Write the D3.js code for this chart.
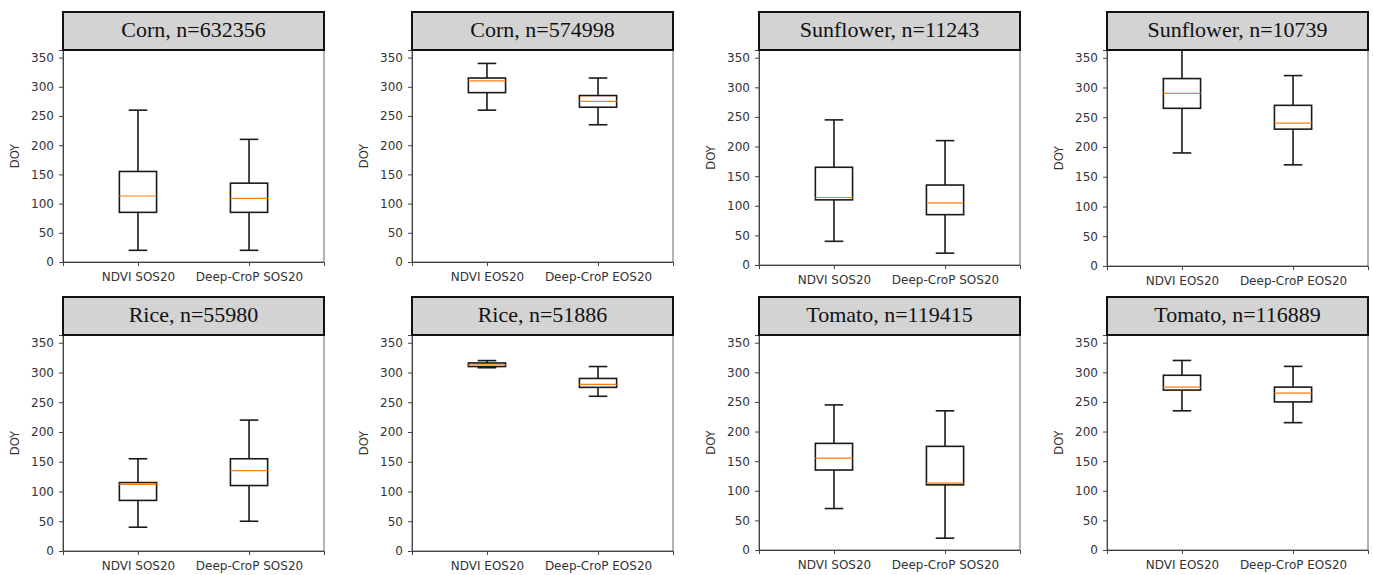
<!DOCTYPE html>
<html>
<head>
<meta charset="utf-8">
<script src="https://cdn.jsdelivr.net/npm/d3@7"></script>
<style>
  html, body { margin: 0; padding: 0; background: #fff; }
  svg { display: block; }
</style>
</head>
<body>
<svg id="chart" width="1373" height="575"></svg>
<script>
// Crop / sample size per panel (row-major, 2 rows x 4 columns)
const crops = ["Corn", "Corn", "Sunflower", "Sunflower", "Rice", "Rice", "Tomato", "Tomato"];
const sampleSizes = [632356, 574998, 11243, 10739, 55980, 51886, 119415, 116889];
const phases = ["SOS20", "EOS20", "SOS20", "EOS20", "SOS20", "EOS20", "SOS20", "EOS20"];
const methods = ["NDVI", "Deep-CroP"];

// Box statistics: [lower whisker, Q1, median, Q3, upper whisker] in DOY
const ndviStats = [
  [20, 85, 113, 155, 260],
  [260, 290, 310, 315, 340],
  [40, 110, 114, 165, 245],
  [190, 265, 290, 315, 365],
  [40, 85, 112, 115, 155],
  [308, 310, 313, 316, 320],
  [70, 135, 155, 180, 245],
  [235, 270, 275, 295, 320]
];
const deepStats = [
  [20, 85, 109, 135, 210],
  [235, 265, 275, 285, 315],
  [20, 85, 105, 135, 210],
  [170, 230, 240, 270, 320],
  [50, 110, 135, 155, 220],
  [260, 275, 280, 290, 310],
  [20, 110, 113, 175, 235],
  [215, 250, 265, 275, 310]
];

const yTicks = [0, 50, 100, 150, 200, 250, 300, 350];
const yLabel = "DOY";

// Layout of the 2 x 4 grid
const colLeft = [63, 412, 759, 1107];
const plotW = 261;
const titleTop = [12, 297];
const titleH = 38;
const plotBottom = [[262, 262, 265, 266], [551, 551, 550, 550]];

const svg = d3.select("#chart");

crops.forEach((crop, i) => {
  const row = Math.floor(i / 4), col = i % 4;
  const left = colLeft[col];
  const top = titleTop[row] + titleH;
  const bottom = plotBottom[row][col];

  const x = d3.scaleLinear().domain([0.325, 2.675]).range([left, left + plotW]);
  const y = d3.scaleLinear().domain([0, 363]).range([bottom, top]);

  const g = svg.append("g");

  // Axes frame (spines)
  g.append("rect")
    .attr("x", left).attr("y", top)
    .attr("width", plotW).attr("height", bottom - top)
    .attr("fill", "#fff").attr("stroke", "#666").attr("stroke-width", 1);

  // Y axis
  const yAxis = d3.axisLeft(y).tickValues(yTicks).tickSize(4).tickPadding(5);
  const ya = g.append("g").attr("transform", `translate(${left},0)`).call(yAxis);
  ya.select(".domain").attr("stroke", "#444");
  ya.selectAll(".tick line").attr("stroke", "#444");
  ya.selectAll("text")
    .attr("font-family", "DejaVu Sans, sans-serif")
    .attr("font-size", 12).attr("fill", "#333");

  // X axis with method labels
  const labels = methods.map(m => `${m} ${phases[i]}`);
  const xAxis = d3.axisBottom(x).tickValues([1, 2]).tickSize(4).tickPadding(6)
    .tickFormat((d, k) => labels[k]);
  const xa = g.append("g").attr("transform", `translate(0,${bottom})`).call(xAxis);
  xa.select(".domain").attr("stroke", "#444");
  xa.selectAll(".tick line").attr("stroke", "#444");
  xa.selectAll("text")
    .attr("font-family", "DejaVu Sans, sans-serif")
    .attr("font-size", 12).attr("fill", "#333");

  // Y axis title
  g.append("text")
    .attr("transform", `translate(${left - 44},${(top + bottom) / 2}) rotate(-90)`)
    .attr("text-anchor", "middle")
    .attr("font-family", "DejaVu Sans, sans-serif")
    .attr("font-size", 11.5).attr("fill", "#333")
    .text(yLabel);

  // Boxes
  const boxW = 0.335;
  [ndviStats[i], deepStats[i]].forEach((s, k) => {
    const cx = x(k + 1);
    const half = (x(boxW) - x(0)) / 2;
    const capHalf = half / 2;
    const [lo, q1, med, q3, hi] = s;
    const b = g.append("g").attr("stroke", "#1a1a1a").attr("stroke-width", 1.6).attr("fill", "none");
    // whiskers
    b.append("line").attr("x1", cx).attr("x2", cx).attr("y1", y(q3)).attr("y2", y(hi));
    b.append("line").attr("x1", cx).attr("x2", cx).attr("y1", y(q1)).attr("y2", y(lo));
    // caps
    b.append("line").attr("x1", cx - capHalf).attr("x2", cx + capHalf).attr("y1", y(hi)).attr("y2", y(hi));
    b.append("line").attr("x1", cx - capHalf).attr("x2", cx + capHalf).attr("y1", y(lo)).attr("y2", y(lo));
    // box
    b.append("rect")
      .attr("x", cx - half).attr("y", y(q3))
      .attr("width", 2 * half).attr("height", Math.max(0, y(q1) - y(q3)));
    // median
    g.append("line")
      .attr("x1", cx - half).attr("x2", cx + half)
      .attr("y1", y(med)).attr("y2", y(med))
      .attr("stroke", "#ff7f0e").attr("stroke-width", 1.2);
  });

  // Title strip
  g.append("rect")
    .attr("x", left).attr("y", titleTop[row])
    .attr("width", plotW).attr("height", titleH)
    .attr("fill", "#d3d3d3").attr("stroke", "#111").attr("stroke-width", 2);
  g.append("text")
    .attr("x", left + plotW / 2).attr("y", titleTop[row] + titleH / 2 + 1)
    .attr("text-anchor", "middle").attr("dominant-baseline", "middle")
    .attr("font-family", "Liberation Serif, Times New Roman, serif")
    .attr("font-size", 22).attr("fill", "#111")
    .text(`${crop}, n=${sampleSizes[i]}`);
});
</script>
</body>
</html>
